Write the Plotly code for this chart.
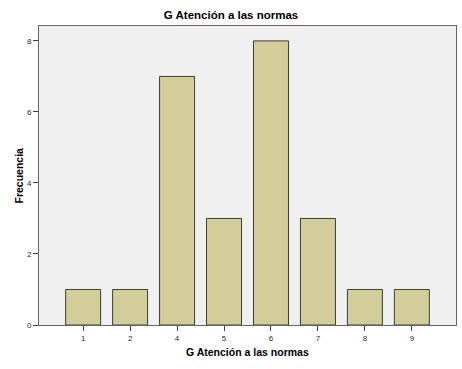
import plotly.graph_objects as go

categories = ["1", "2", "4", "5", "6", "7", "8", "9"]
frequencies = [1, 1, 7, 3, 8, 3, 1, 1]
y_ticks = [0, 2, 4, 6, 8]

fig = go.Figure(go.Bar(
    x=categories, y=frequencies,
    marker=dict(color="rgb(211,206,153)", line=dict(color="rgb(60,60,60)", width=1)),
    width=0.745,
))

font_family = "Liberation Sans, Arial, sans-serif"
fig.update_layout(
    width=462, height=369,
    margin=dict(l=39, r=6, t=26, b=44, autoexpand=False),
    paper_bgcolor="white",
    plot_bgcolor="rgb(240,240,240)",
    showlegend=False,
    font=dict(family=font_family, color="black"),
    title=dict(text="<b>G Atención a las normas</b>", x=0.5, xref="container", xanchor="center",
               y=1 - 15/369, yanchor="middle", font=dict(size=11.5, family=font_family)),
    xaxis=dict(
        type="category", range=[-0.94, 7.94], automargin=False,
        showline=True, linecolor="rgb(100,100,100)", linewidth=1, mirror=True,
        ticks="outside", ticklen=5, tickcolor="rgb(60,60,60)",
        tickfont=dict(size=8, color="rgb(40,40,40)"),
        showgrid=False, zeroline=False,
    ),
    yaxis=dict(
        range=[0, 8.42], tickvals=y_ticks, automargin=False,
        showline=True, linecolor="rgb(100,100,100)", linewidth=1, mirror=True,
        ticks="outside", ticklen=5, tickcolor="rgb(60,60,60)",
        tickfont=dict(size=8, color="rgb(40,40,40)"),
        showgrid=False, zeroline=False,
    ),
    annotations=[
        dict(text="<b>G Atención a las normas</b>", xref="paper", yref="paper",
             x=0.5, y=-27/299, xanchor="center", yanchor="middle", showarrow=False,
             font=dict(size=10.5)),
        dict(text="<b>Frecuencia</b>", xref="paper", yref="paper",
             x=-21/417, y=0.5, xanchor="center", yanchor="middle", showarrow=False,
             textangle=-90, font=dict(size=10.5)),
    ],
)

fig.write_html("out.html", config={"displayModeBar": False},
               post_script="document.body.style.margin='0';")
